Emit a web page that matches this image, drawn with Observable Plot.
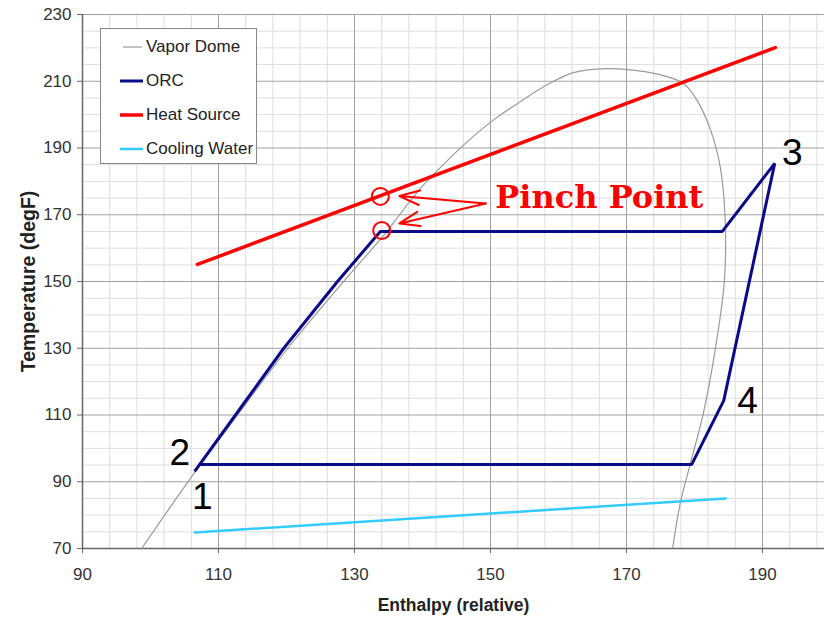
<!DOCTYPE html>
<html>
<head>
<meta charset="utf-8">
<script src="https://cdn.jsdelivr.net/npm/d3@7"></script>
<script src="https://cdn.jsdelivr.net/npm/@observablehq/plot@0.6"></script>
<style>
  html, body { margin: 0; padding: 0; background: #fff; }
  #wrap { position: relative; width: 824px; height: 618px; }
  #legend { position: absolute; left: 100px; top: 28px; width: 157px; height: 136px;
    border: 1px solid #888; background: #fff; box-sizing: border-box;
    font-family: "Liberation Sans Narrow", "Liberation Sans", Arial, sans-serif; font-size: 17px; color: #222; }
  .item { position: absolute; left: 19px; height: 20px; display: flex; align-items: center; }
  .sw { width: 23px; margin-right: 3px; }
</style>
</head>
<body>
<div id="wrap"></div>
<script>
// ---- data ----
const xTicks = [90, 110, 130, 150, 170, 190];
const yTicks = [70, 90, 110, 130, 150, 170, 190, 210, 230];

// vapor dome (saturation curve)
const domeX = [98.7, 106.5, 112.8, 120.2, 128.4, 134.8, 136.0, 139.7, 143.4, 147.1, 150.7, 154.4, 158.4, 162.2, 167.2, 171.6, 175.4, 178.4, 180.4, 182.4, 183.8, 184.5, 184.4, 183.1, 181.3, 179.4, 177.9, 176.8];
const domeY = [70.0, 92.8, 110.0, 130.0, 150.0, 165.0, 168.3, 177.9, 185.7, 192.8, 198.8, 203.9, 209.0, 212.6, 213.8, 213.2, 211.7, 209.3, 204.2, 195.2, 184.2, 169.2, 150.3, 130.2, 110.5, 95.5, 83.5, 70.3];

// ORC cycle path
const orcX = [106.6, 112.5, 119.6, 127.5, 133.8, 184.1, 191.8, 184.3, 179.6, 107.4];
const orcY = [93.4, 110.0, 130.0, 150.0, 165.0, 165.0, 185.4, 114.3, 95.2, 95.2];

// heat source and cooling water
const heatX = [106.9, 191.9];
const heatY = [155.1, 220.1];
const coolX = [106.5, 184.6];
const coolY = [74.8, 85.0];

// pinch points
const pinchX = [133.8, 134.0];
const pinchY = [175.5, 165.3];
const pinchLabel = "Pinch Point";
const pinchLabelX = 150.7, pinchLabelY = 175.2;
const arrowFromX = 149.3, arrowFromY = 173.4;
const arrowToX = [136.6, 136.6];
const arrowToY = [175.6, 167.4];

// state point labels
const stateText = ["1", "2", "3", "4"];
const stateX = [107.6, 104.3, 194.4, 187.8];
const stateY = [85.3, 98.5, 188.4, 114.0];

// legend
const seriesNames = ["Vapor Dome", "ORC", "Heat Source", "Cooling Water"];
const seriesColors = ["#9a9a9a", "#0a0a8a", "#ff0000", "#33ccff"];
const seriesWidths = [1.2, 3, 3.5, 2.5];

const pts = (xs, ys) => xs.map((x, i) => ({x, y: ys[i]}));
const minorX = d3.range(90, 200, 4).filter(v => !xTicks.includes(v));
const minorY = d3.range(70, 231, 5).filter(v => !yTicks.includes(v));

const chart = Plot.plot({
  width: 824,
  height: 618,
  marginTop: 14,
  marginBottom: 70,
  marginLeft: 82,
  marginRight: 0,
  style: { fontFamily: '"Liberation Sans Narrow", "Liberation Sans", Arial, sans-serif', fontSize: "17px", color: "#333", background: "#fff" },
  x: { domain: [90, 199.12], label: null },
  y: { domain: [70, 230], label: null },
  marks: [
    Plot.ruleX(minorX, { stroke: "#dedede", strokeWidth: 1 }),
    Plot.ruleY(minorY, { stroke: "#dedede", strokeWidth: 1 }),
    Plot.ruleX(xTicks, { stroke: "#a0a0a0", strokeWidth: 1 }),
    Plot.ruleY(yTicks, { stroke: "#a0a0a0", strokeWidth: 1 }),
    Plot.ruleX([90], { stroke: "#666", strokeWidth: 1.5 }),
    Plot.ruleY([70], { stroke: "#666", strokeWidth: 1.5 }),
    Plot.axisX({ ticks: xTicks, tickSize: 5, tickPadding: 14, stroke: "#666", fill: "#333", label: null }),
    Plot.axisY({ ticks: yTicks, tickSize: 5, tickPadding: 6, stroke: "#666", fill: "#333", label: null }),
    Plot.line(pts(domeX, domeY), { x: "x", y: "y", stroke: seriesColors[0], strokeWidth: seriesWidths[0], curve: "catmull-rom" }),
    Plot.line(pts(coolX, coolY), { x: "x", y: "y", stroke: seriesColors[3], strokeWidth: seriesWidths[3] }),
    Plot.line(pts(heatX, heatY), { x: "x", y: "y", stroke: seriesColors[2], strokeWidth: seriesWidths[2] }),
    Plot.line(pts(orcX, orcY), { x: "x", y: "y", stroke: seriesColors[1], strokeWidth: seriesWidths[1], strokeLinejoin: "miter" }),
    Plot.dot(pts(pinchX, pinchY), { x: "x", y: "y", r: 8.5, stroke: "#ff0000", strokeWidth: 2, fill: "none" }),
    Plot.arrow(pts(arrowToX, arrowToY), { x1: () => arrowFromX, y1: () => arrowFromY, x2: "x", y2: "y", stroke: "#ff0000", strokeWidth: 2, headLength: 16, headAngle: 40, bend: 0 }),
    Plot.text([pinchLabel], { x: () => pinchLabelX, y: () => pinchLabelY, text: d => d, textAnchor: "start", fill: "#ff0000", fontFamily: '"DejaVu Serif", serif', fontWeight: "bold", fontSize: 32 }),
    Plot.text(stateText, { x: (d, i) => stateX[i], y: (d, i) => stateY[i], text: d => d, fill: "#000", fontFamily: '"Liberation Sans", Arial, sans-serif', fontSize: 37 }),
    Plot.text(["Enthalpy (relative)"], { frameAnchor: "bottom", dy: 62, textAnchor: "middle", text: d => d, fill: "#222", fontWeight: "bold", fontSize: 17.5 }),
    Plot.text(["Temperature (degF)"], { frameAnchor: "left", dx: -54, rotate: -90, textAnchor: "middle", lineAnchor: "middle", text: d => d, fill: "#222", fontWeight: "bold", fontSize: 19.5 })
  ]
});

const wrap = document.getElementById("wrap");
wrap.appendChild(chart);

const legend = document.createElement("div");
legend.id = "legend";
const rowsTop = [8, 42, 76, 110];
seriesNames.forEach((name, i) => {
  const item = document.createElement("div");
  item.className = "item";
  item.style.top = rowsTop[i] + "px";
  const sw = document.createElementNS("http://www.w3.org/2000/svg", "svg");
  sw.setAttribute("class", "sw");
  sw.setAttribute("height", "20");
  sw.setAttribute("width", "23");
  const ln = document.createElementNS("http://www.w3.org/2000/svg", "line");
  ln.setAttribute("x1", i === 0 ? 3 : 0);
  ln.setAttribute("x2", i === 0 ? 22 : 23);
  ln.setAttribute("y1", 10); ln.setAttribute("y2", 10);
  ln.setAttribute("stroke", seriesColors[i]);
  ln.setAttribute("stroke-width", seriesWidths[i]);
  sw.appendChild(ln);
  item.appendChild(sw);
  const t = document.createElement("span");
  t.textContent = name;
  item.appendChild(t);
  legend.appendChild(item);
});
wrap.appendChild(legend);
</script>
</body>
</html>
